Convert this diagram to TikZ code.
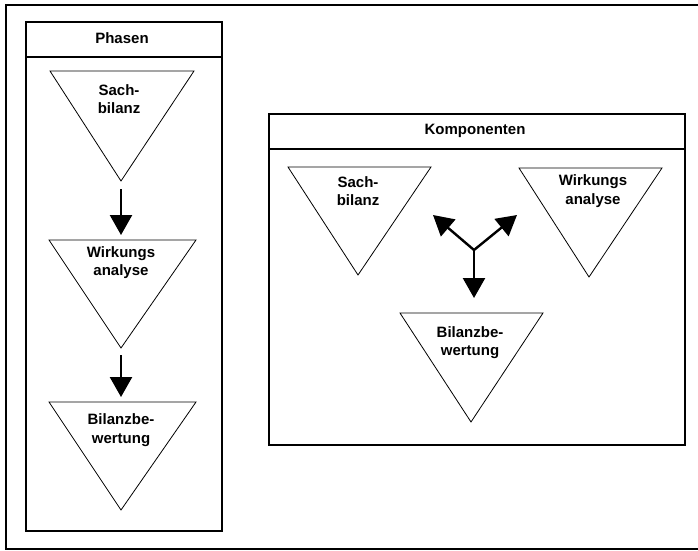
\documentclass[tikz,border=0pt]{standalone}
\usepackage{fontspec}
\setmainfont{Liberation Sans}
\usetikzlibrary{arrows.meta}
\begin{document}
\begin{tikzpicture}[x=1pt,y=-1pt,
  frame/.style={draw=black,line width=1.6pt},
  panel/.style={draw=black,line width=1.3pt},
  tri/.style={draw=black,line width=0.8pt,fill=white,line join=miter},
  lbl/.style={align=center,inner sep=0pt,font=\bfseries\fontsize{15}{18.5}\selectfont},
  flow/.style={line width=2.4pt,-{Triangle[length=20pt,width=22pt]}}]
\useasboundingbox (0,0) rectangle (698,550);
\fill[white] (0,0) rectangle (698,550);
% outer frame
\draw[frame] (704,5) -- (6,5) -- (6,549) -- (704,549);
% left panel
\draw[panel] (26,22) rectangle (222,531);
\draw[panel] (26,57) -- (222,57);
\node[lbl] (phasen) at (122,38) {Phasen};
% right panel
\draw[panel] (269,114) rectangle (685,445);
\draw[panel] (269,149) -- (685,149);
\node[lbl] (komp) at (475,131) {Komponenten};
% left triangles
\coordinate (p1a) at (121,181);
\draw[tri] (50,71) -- (194,71) -- (p1a) -- cycle;
\node[lbl] (p1) at (119,99) {Sach-\\bilanz};
\coordinate (p2t) at (121,240);
\coordinate (p2a) at (121,348);
\draw[tri] (49,240) -- (196,240) -- (p2a) -- cycle;
\node[lbl] (p2) at (121,262.5) {Wirkungs\\analyse};
\coordinate (p3t) at (121,402);
\draw[tri] (49,402) -- (196,402) -- (121,510) -- cycle;
\node[lbl] (p3) at (121,430) {Bilanzbe-\\wertung};
\draw[flow,shorten <=8pt,shorten >=5pt] (p1a) -- (p2t);
\draw[flow,shorten <=7pt,shorten >=5pt] (p2a) -- (p3t);
% right triangles
\draw[tri] (288,167) -- (431,167) -- (358,275) -- cycle;
\node[lbl] (k1) at (358,191) {Sach-\\bilanz};
\draw[tri] (519,168) -- (662,168) -- (589,277) -- cycle;
\node[lbl] (k2) at (593,191) {Wirkungs\\analyse};
\draw[tri] (400,313) -- (543,313) -- (471,422) -- cycle;
\node[lbl] (k3) at (470,342.5) {Bilanzbe-\\wertung};
% three-way arrow
\coordinate (j) at (474,250);
\coordinate (jl) at (433,215);
\coordinate (jr) at (517,215);
\coordinate (jd) at (474,298);
\draw[flow] (j) -- (jl);
\draw[flow] (j) -- (jr);
\draw[flow] (j) -- (jd);
\end{tikzpicture}
\end{document}
